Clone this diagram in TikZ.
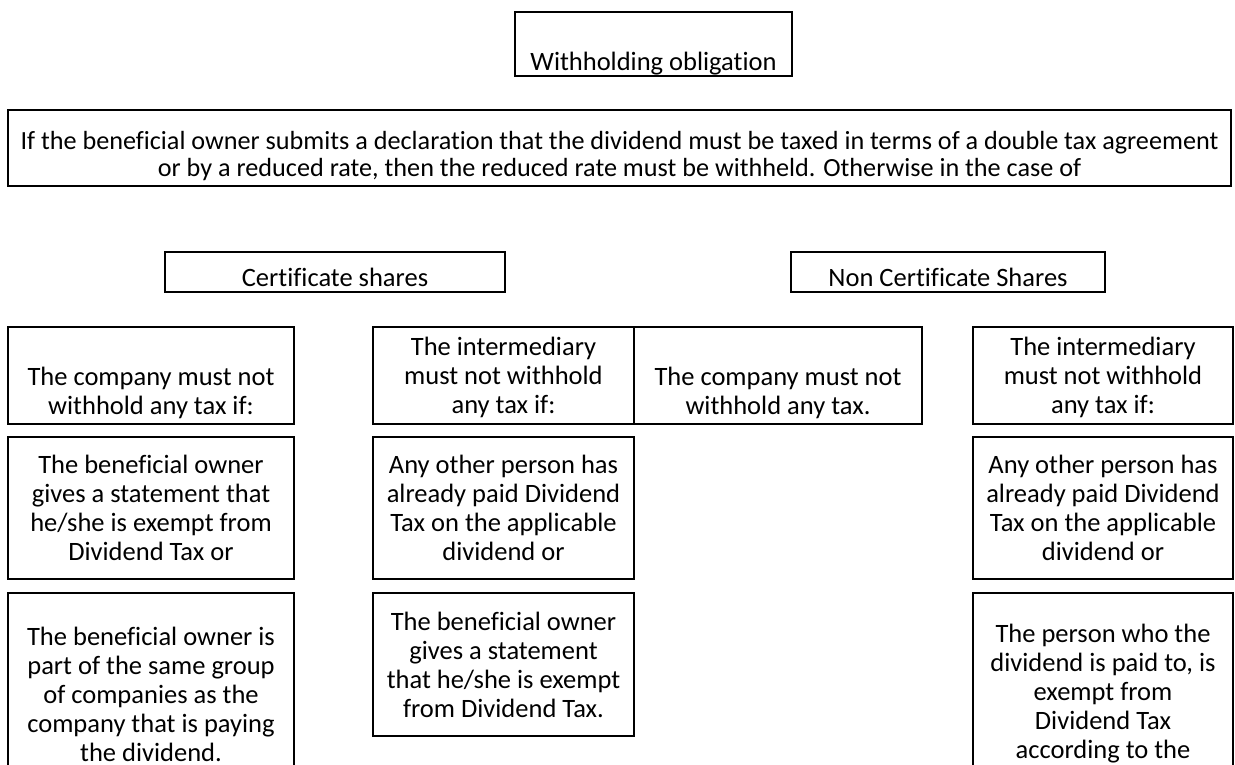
\documentclass[tikz,border=0pt]{standalone}
\usepackage{fontspec}
\setmainfont{Carlito}[Ligatures=NoCommon]
% fixed-size text panel: width, height, downward offset (twice the shift), text
\newcommand\panelbody[4]{\parbox[c][#2pt][c]{#1pt}{\centering\vspace*{#3pt}#4\par}}
\begin{document}
\begin{tikzpicture}[x=1pt,y=-1pt,
  every node/.style={font=\fontsize{26.5}{29}\selectfont},
  panel/.style={draw=black, line width=1.7pt, inner sep=0pt}]
\useasboundingbox (0,0) rectangle (1235,765);
\begin{scope}
\clip (0,0) rectangle (1235,765);
% heading boxes
\node[panel] (wh) at (653.5,44) {\panelbody{277}{64}{9}{\strut\\Withholding obligation}};
\node[panel] (decl) at (619.5,148) {\fontsize{26.2}{27.5}\selectfont\panelbody{1223}{76}{16}%
  {If the beneficial owner submits a declaration that the dividend must be taxed in terms of a double tax agreement\\
   or by a reduced rate, then the reduced rate must be withheld. Otherwise in the case of}};
\node[panel] (cert) at (335,272) {\panelbody{340}{40}{11}{Certificate shares}};
\node[panel] (noncert) at (948,272) {\panelbody{314}{40}{11}{Non Certificate Shares}};
% first row
\node[panel] (a1) at (151,375.5) {\panelbody{286}{97}{4}{\strut\\The company must not\\withhold any tax if:}};
\node[panel] (b1) at (503.5,375.5) {\panelbody{261}{97}{3}{The intermediary\\must not withhold\\any tax if:}};
\node[panel] (c1) at (778,375.5) {\panelbody{288}{97}{4}{\strut\\The company must not\\withhold any tax.}};
\node[panel] (d1) at (1103,375.5) {\panelbody{260}{97}{3}{The intermediary\\must not withhold\\any tax if:}};
% second row
\node[panel] (a2) at (151,508) {\panelbody{286}{142}{0}{The beneficial owner\\gives a statement that\\he/she is exempt from\\Dividend Tax or}};
\node[panel] (b2) at (503.5,508) {\panelbody{261}{142}{0}{Any other person has\\already paid Dividend\\Tax on the applicable\\dividend or}};
\node[panel] (d2) at (1103,508) {\panelbody{260}{142}{0}{Any other person has\\already paid Dividend\\Tax on the applicable\\dividend or}};
% third row
\node[panel] (a3) at (151,694) {\panelbody{286}{202}{0}{The beneficial owner is\\part of the same group\\of companies as the\\company that is paying\\the dividend.}};
\node[panel] (b3) at (503.5,664.5) {\panelbody{261}{143}{0}{The beneficial owner\\gives a statement\\that he/she is exempt\\from Dividend Tax.}};
\node[panel] (d3) at (1103,694) {\panelbody{260}{202}{0}{The person who the\\dividend is paid to, is\\exempt from\\Dividend Tax\\according to the}};
\end{scope}
\end{tikzpicture}
\end{document}
